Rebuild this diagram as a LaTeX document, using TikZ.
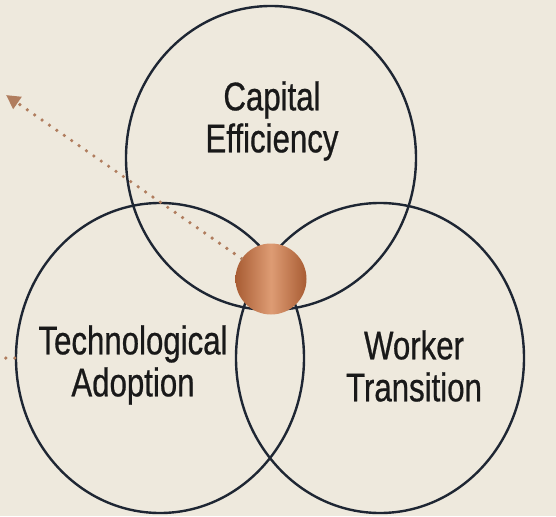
\documentclass[tikz,border=0pt]{standalone}
\usepackage{fontspec}
\setmainfont{Liberation Sans}[FakeStretch=0.78, FakeBold=0.6]
\usetikzlibrary{shapes.geometric}
\usetikzlibrary{arrows.meta}
\definecolor{paper}{HTML}{EEE9DD}
\definecolor{ink}{HTML}{1E2633}
\definecolor{copperdark}{HTML}{A85C33}
\definecolor{copperlight}{HTML}{DE9C74}
\definecolor{trail}{HTML}{B07D5E}
\tikzset{
	ring/.style={ellipse, draw=ink, line width=2.4pt, inner sep=0pt},
	caption/.style={align=center, text=black!90, font=\fontsize{40}{42}\selectfont},
	trailline/.style={trail, line width=3.6pt, line cap=round, dash pattern=on 0pt off 9pt}
}

\begin{document}
\begin{tikzpicture}[x=1pt, y=-1pt]
		\fill [paper] (0,0) rectangle (556,516);
		\useasboundingbox (0,0) rectangle (556,516);
		\node at (271,158) [ring, minimum width=290pt, minimum height=304pt] (capital) {};
		\node at (160,358) [ring, minimum width=288pt, minimum height=310pt] (tech) {};
		\node at (380,358) [ring, minimum width=288pt, minimum height=310pt] (worker) {};
		\node at (272,121) [caption] (capitaltext) {Capital\\Efficiency};
		\node at (133,365) [caption] (techtext) {Technological\\Adoption};
		\node at (414,366) [caption] (workertext) {Worker\\Transition};
		\node at (271,279) [circle, minimum size=71pt, inner sep=0pt, left color=copperdark, right color=copperdark, middle color=copperlight] (core) {}; % the shared centre
		\coordinate (tip) at (6,95);
		\coordinate (offleft) at (0,358);
		\draw [trailline, -{Triangle[length=14pt, width=14pt]}] (core) -- (tip);
		\draw [trailline] (tech.west) -- (offleft);
		\end{tikzpicture}
\end{document}
